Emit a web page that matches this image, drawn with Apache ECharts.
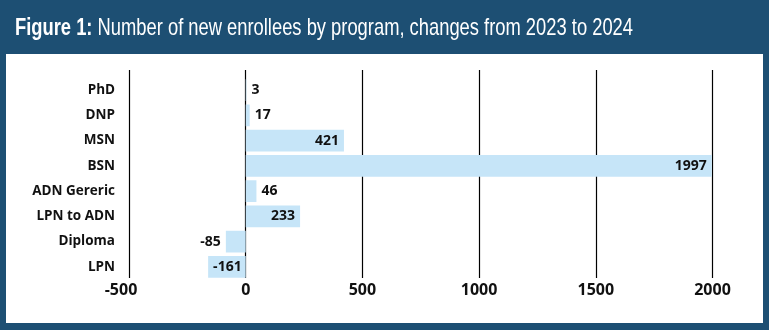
<!DOCTYPE html>
<html>
<head>
<meta charset="utf-8">
<script src="https://cdn.jsdelivr.net/npm/echarts@6/dist/echarts.min.js"></script>
<style>
  html, body { margin: 0; padding: 0; background: #fff; }
  #chart { width: 769px; height: 330px; }
</style>
</head>
<body>
<div id="chart"></div>
<script>
// Programs, listed top to bottom
const programs = ['PhD', 'DNP', 'MSN', 'BSN', 'ADN Gereric', 'LPN to ADN', 'Diploma', 'LPN'];
// Change in new enrollees, 2023 -> 2024
const changes = [3, 17, 421, 1997, 46, 233, -85, -161];
// Value axis range and step
const axisMin = -500;
const axisMax = 2000;
const axisStep = 500;

const titleLead = 'Figure 1:';
const titleRest = 'Number of new enrollees by program, changes from 2023 to 2024';

const NAVY = '#1d4f73';
const BAR = '#c6e5f8';
const FONT = '"Open Sans", "Noto Sans", sans-serif';
const TITLE_FONT = '"Liberation Sans", Arial, sans-serif';
const TITLE_SIZE = 24;

// Short bars carry their label outside, long bars inside the end
function labelPos(v) {
  if (v >= 0) return v > 150 ? 'insideRight' : 'right';
  return v < -120 ? 'insideLeft' : 'left';
}

// Condensed headline: measure the text and squeeze it horizontally
const ctx = document.createElement('canvas').getContext('2d');
ctx.font = 'bold ' + TITLE_SIZE + 'px ' + TITLE_FONT;
const wLead = ctx.measureText(titleLead + ' ').width;
ctx.font = TITLE_SIZE + 'px ' + TITLE_FONT;
const wRest = ctx.measureText(titleRest).width;
const titleX = 15, titleW = 618;
const squeeze = titleW / (wLead + wRest);

const chart = echarts.init(document.getElementById('chart'), null, { renderer: 'canvas' });

const plotLeft = 129, plotRight = 769 - 712.5;

chart.setOption({
  backgroundColor: NAVY,
  animation: false,
  graphic: [
    {
      type: 'rect', z: -10, silent: true,
      shape: { x: 6, y: 54, width: 757, height: 269 },
      style: { fill: '#ffffff' }
    },
    {
      type: 'text', silent: true, x: titleX, y: 28, scaleX: squeeze,
      style: {
        text: titleLead, fill: '#fff', font: 'bold ' + TITLE_SIZE + 'px ' + TITLE_FONT,
        verticalAlign: 'middle'
      }
    },
    {
      type: 'text', silent: true, x: titleX + wLead * squeeze, y: 28, scaleX: squeeze,
      style: {
        text: titleRest, fill: '#fff', font: TITLE_SIZE + 'px ' + TITLE_FONT,
        verticalAlign: 'middle'
      }
    }
  ],
  grid: [
    // split-line grid (taller than the bar bands)
    { left: plotLeft, right: plotRight, top: 70, height: 208 },
    // bar grid
    { left: plotLeft, right: plotRight, top: 77.5, height: 202 }
  ],
  xAxis: [
    {
      gridIndex: 0, type: 'value', min: axisMin, max: axisMax, interval: axisStep,
      axisLine: { show: false }, axisTick: { show: false },
      splitLine: { show: true, lineStyle: { color: '#000', width: 1.2 } },
      axisLabel: {
        color: '#111', fontSize: 16, fontWeight: 'bold', fontFamily: FONT, margin: 4,
        // negative ticks hang the minus sign out to the left
        formatter: v => (v < 0 ? '{neg|' + v + '}' : String(v)),
        rich: {
          neg: { color: '#111', fontSize: 16, fontWeight: 'bold', fontFamily: FONT, padding: [0, 16, 0, 0] }
        }
      }
    },
    {
      gridIndex: 1, type: 'value', min: axisMin, max: axisMax, interval: axisStep,
      show: false
    }
  ],
  yAxis: [
    {
      gridIndex: 0, type: 'category', data: programs, inverse: true, show: false
    },
    {
      gridIndex: 1, type: 'category', data: programs, inverse: true,
      axisLine: { show: false }, axisTick: { show: false },
      axisLabel: { color: '#111', fontSize: 13.5, fontWeight: 'bold', fontFamily: FONT, margin: 14 }
    }
  ],
  series: [{
    type: 'bar', xAxisIndex: 1, yAxisIndex: 1,
    barCategoryGap: '14%',
    itemStyle: { color: BAR },
    data: changes.map(v => ({
      value: v,
      label: {
        show: true, position: labelPos(v), distance: 5,
        color: '#111', fontSize: 14, fontWeight: 'bold', fontFamily: FONT
      }
    }))
  }]
});
</script>
</body>
</html>
